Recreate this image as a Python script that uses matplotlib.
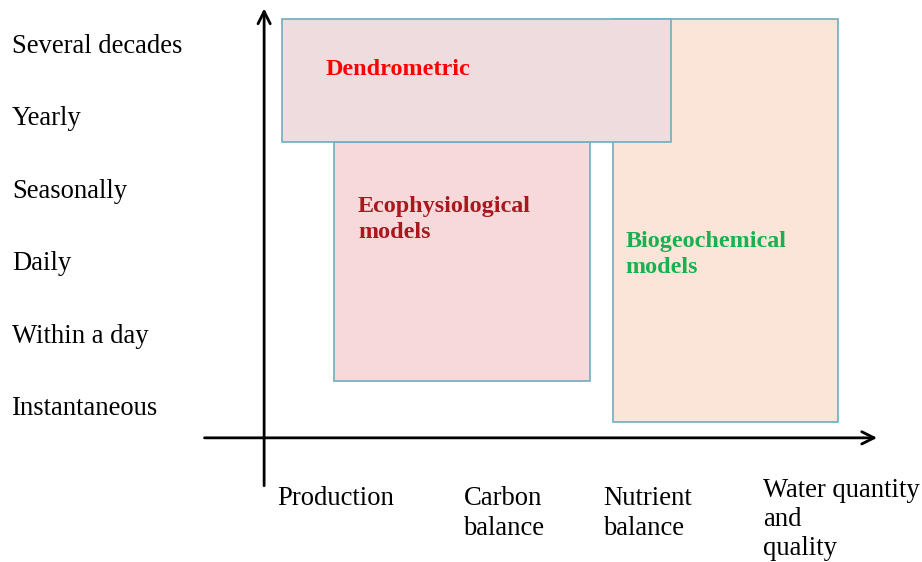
import matplotlib
matplotlib.use("Agg")
import matplotlib.pyplot as plt
from matplotlib.patches import Rectangle

# ---- data ----
time_scales = ["Instantaneous", "Within a day", "Daily", "Seasonally", "Yearly", "Several decades"]
processes = ["Production", "Carbon\nbalance", "Nutrient\nbalance", "Water quantity\nand\nquality"]
process_pos = [0.0, 1.15, 2.01, 3.0]

model_names = ["Biogeochemical\nmodels", "Ecophysiological\nmodels", "Dendrometric"]
model_x0 = [2.07, 0.35, 0.03]
model_x1 = [3.46, 1.93, 2.43]
model_y0 = [-0.22, 0.35, 3.65]
model_y1 = [5.35, 3.65, 5.35]

# ---- style ----
fills = ["#FBE5D8", "#F8D9DB", "#EEDCDE"]
text_colors = ["#19B050", "#A8191E", "#FF0000"]
edge = "#6EADBF"
label_off = [(0.08, 3.26), (0.15, 1.07), (0.27, 0.70)]  # offset from box left / top (data units)

plt.rcParams['font.family'] = ['Liberation Serif', 'DejaVu Serif']

fig = plt.figure(figsize=(9.22, 5.62), dpi=100)
ax = fig.add_axes([0, 0, 1, 1])
ax.set_xlim(-1.71, 3.98)
ax.set_ylim(-2.155, 5.608)
ax.axis('off')

for x0, x1, y0, y1, fc in zip(model_x0, model_x1, model_y0, model_y1, fills):
    ax.add_patch(Rectangle((x0, y0), x1 - x0, y1 - y0, facecolor=fc, edgecolor=edge, lw=1.2))

for name, x0, y1, tc, (dx, dy) in zip(model_names, model_x0, model_y1, text_colors, label_off):
    ax.text(x0 + dx, y1 - dy, name, color=tc, fontsize=17.4, fontweight='bold',
            ha='left', va='center', linespacing=1.3)

# axes arrows
ax.annotate("", xy=(-0.08, 5.53), xytext=(-0.08, -1.14),
            arrowprops=dict(arrowstyle="->", lw=2, color="black", mutation_scale=22))
ax.annotate("", xy=(3.72, -0.44), xytext=(-0.465, -0.44),
            arrowprops=dict(arrowstyle="->", lw=2, color="black", mutation_scale=22))

for i, lab in enumerate(time_scales):
    ax.text(-1.636, i - 0.035, lab, fontsize=19.2, ha='left', va='center')

for j, (lab, xp) in enumerate(zip(processes, process_pos)):
    top = -0.99 if j == 3 else -1.11
    ax.text(xp, top, lab, fontsize=19.2, ha='left', va='top', linespacing=1.22)

fig.savefig("out.png", dpi=100)
